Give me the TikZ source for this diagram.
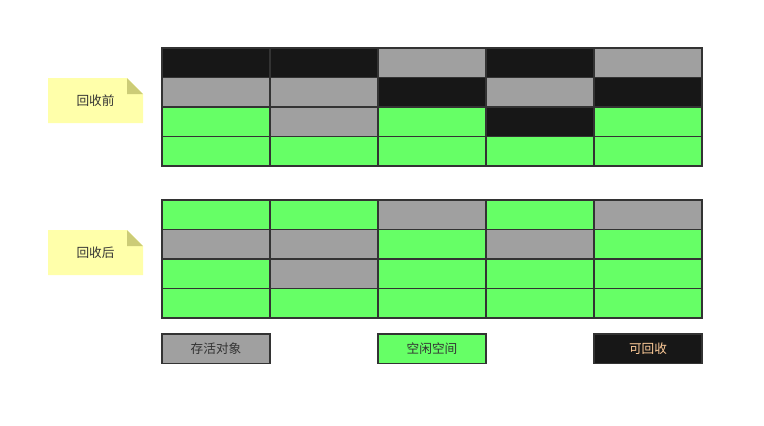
\documentclass[tikz,border=0pt]{standalone}
\usepackage{fontspec}
\setmainfont{Noto Sans CJK SC}
\definecolor{dead}{HTML}{171717}
\definecolor{live}{HTML}{A0A0A0}
\definecolor{free}{HTML}{66FF66}
\definecolor{edge}{HTML}{333333}
\definecolor{memo}{HTML}{FFFFAA}
\definecolor{memofold}{HTML}{CCCC77}
\definecolor{deadtext}{HTML}{FFCC99}
\begin{document}
\begin{tikzpicture}[x=0.75pt,y=-0.75pt,
    cell/.style={draw=edge,line width=1.2pt,minimum width=81pt,minimum height=22.1pt,
      inner sep=0pt,outer sep=0pt,anchor=north west,font=\fontsize{9.5}{11}\selectfont,text=edge},
    memotext/.style={font=\fontsize{9.5}{11}\selectfont,text=edge,inner sep=0pt}]
  \useasboundingbox (0,0) rectangle (764,425);
  % before collection
  \foreach \row [count=\r from 0] in {{dead,dead,live,dead,live},{live,live,dead,live,dead},
      {free,live,free,dead,free},{free,free,free,free,free}}
    \foreach \c [count=\k from 0] in \row
      \node[cell,fill=\c] (pre-\r-\k) at (162+108*\k,48+29.5*\r) {};
  % after collection
  \foreach \row [count=\r from 0] in {{free,free,live,free,live},{live,live,free,live,free},
      {free,live,free,free,free},{free,free,free,free,free}}
    \foreach \c [count=\k from 0] in \row
      \node[cell,fill=\c] (post-\r-\k) at (162+108*\k,200+29.5*\r) {};
  % notes
  \foreach \y/\txt [count=\n] in {78/回收前,230/回收后} {
    \fill[memo] (48,\y) -- (127,\y) -- (143,\y+16) -- (143,\y+45) -- (48,\y+45) -- cycle;
    \fill[memofold] (127,\y) -- (143,\y+16) -- (127,\y+16) -- cycle;
    \node[memotext] (memo-\n) at (95.5,\y+23) {\txt};
  }
  % legend
  \node[cell,fill=live] (key-live) at (162,334) {存活对象};
  \node[cell,fill=free] (key-free) at (378,334) {空闲空间};
  \node[cell,fill=dead,text=deadtext] (key-dead) at (594,334) {可回收};
\end{tikzpicture}
\end{document}
